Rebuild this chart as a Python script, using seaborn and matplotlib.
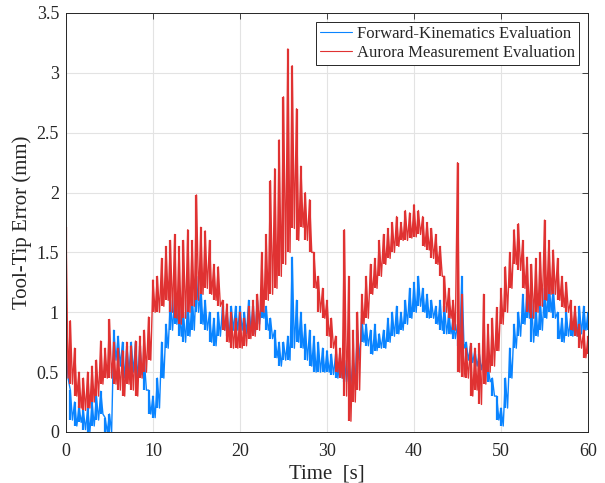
import numpy as np
import pandas as pd
import seaborn as sns
from matplotlib import pyplot as plt

# time grid (s), one upper and one lower reading of the noise band per step
time = np.arange(0, 60.01, 0.5)

fk_hi = [0.7, 0.35, 0.25, 0.22, 0.18, 0.2, 0.25, 0.3, 0.34, 0.12,
         0.15, 0.85, 0.8, 0.75, 0.72, 0.75, 0.75, 0.72, 0.6, 0.35,
         0.3, 0.45, 0.75, 0.9, 1.1, 1.15, 1.1, 1.0, 1.1, 1.15,
         1.3, 1.2, 1.1, 1.0, 0.95, 1.0, 1.05, 1.0, 1.05, 1.05,
         1.05, 1.0, 1.1, 1.05, 1.1, 1.13, 1.05, 0.95, 0.85, 0.75,
         0.75, 0.8, 1.46, 1.1, 1.0, 0.9, 0.85, 0.8, 0.75, 0.7,
         0.68, 0.65, 0.65, 0.62, 0.6, 0.58, 0.6, 0.85, 0.95, 0.9,
         0.85, 0.9, 0.82, 0.85, 0.95, 1.0, 1.05, 1.0, 1.1, 1.2,
         1.25, 1.3, 1.2, 1.15, 1.1, 1.05, 1.1, 1.05, 1.0, 0.95,
         0.9, 1.3, 0.75, 0.72, 0.68, 0.65, 0.62, 0.55, 0.45, 0.3,
         0.2, 0.45, 0.7, 0.9, 1.0, 1.15, 1.2, 1.1, 1.05, 1.1,
         1.2, 1.3, 1.2, 1.0, 0.95, 1.0, 0.95, 1.0, 1.05, 1.05,
         1.0]
fk_lo = [0.45, 0.1, 0.05, 0.08, 0.02, 0.0, 0.05, 0.1, 0.15, 0.0,
         0.0, 0.6, 0.55, 0.45, 0.5, 0.5, 0.45, 0.48, 0.35, 0.15,
         0.12, 0.2, 0.45, 0.7, 0.85, 0.9, 0.8, 0.75, 0.8, 0.85,
         1.0, 0.9, 0.85, 0.75, 0.72, 0.8, 0.85, 0.8, 0.85, 0.85,
         0.85, 0.82, 0.85, 0.82, 0.9, 0.95, 0.85, 0.78, 0.62, 0.55,
         0.6, 0.6, 0.7, 0.75, 0.7, 0.6, 0.55, 0.5, 0.5, 0.5,
         0.5, 0.48, 0.45, 0.45, 0.42, 0.4, 0.45, 0.6, 0.75, 0.72,
         0.65, 0.68, 0.7, 0.7, 0.75, 0.8, 0.82, 0.85, 0.9, 0.95,
         1.0, 1.05, 1.0, 0.95, 0.95, 0.9, 0.85, 0.82, 0.82, 0.78,
         0.72, 0.7, 0.6, 0.58, 0.55, 0.52, 0.5, 0.42, 0.3, 0.1,
         0.05, 0.2, 0.45, 0.7, 0.8, 0.9, 0.95, 0.75, 0.8, 0.85,
         0.95, 1.0, 0.95, 0.78, 0.75, 0.8, 0.8, 0.8, 0.82, 0.85,
         0.85]

aurora_hi = [1.71, 0.93, 0.7, 0.5, 0.45, 0.5, 0.55, 0.6, 0.76, 0.7,
             0.94, 0.75, 0.7, 0.68, 0.75, 0.72, 0.76, 0.8, 0.85, 0.96,
             1.27, 1.3, 1.45, 1.55, 1.6, 1.65, 1.55, 1.6, 1.69, 1.6,
             1.98, 1.71, 1.68, 1.6, 1.4, 1.38, 1.1, 1.07, 1.0, 0.95,
             1.0, 0.95, 1.05, 1.1, 1.15, 1.5, 1.65, 2.1, 2.2, 2.44,
             2.8, 3.2, 3.06, 2.7, 2.22, 2.0, 1.94, 1.5, 1.3, 1.2,
             1.1, 0.95, 0.8, 0.7, 1.69, 1.3, 0.85, 1.0, 1.15, 1.3,
             1.4, 1.45, 1.6, 1.65, 1.7, 1.75, 1.8, 1.75, 1.85, 1.83,
             1.9, 1.85, 1.8, 1.75, 1.7, 1.65, 1.55, 1.3, 1.2, 1.1,
             2.25, 1.15, 0.7, 0.74, 0.7, 0.74, 1.15, 0.9, 0.95, 1.04,
             1.2, 1.38, 1.5, 1.69, 1.74, 1.6, 1.46, 1.4, 1.45, 1.5,
             1.77, 1.6, 1.52, 1.45, 1.3, 1.25, 1.1, 1.05, 0.9, 0.85,
             0.8]
aurora_lo = [0.45, 0.4, 0.3, 0.2, 0.18, 0.2, 0.25, 0.3, 0.4, 0.45,
             0.45, 0.4, 0.35, 0.3, 0.4, 0.35, 0.3, 0.45, 0.5, 0.6,
             1.0, 1.0, 1.05, 1.1, 1.0, 0.95, 0.9, 0.95, 1.0, 1.05,
             1.1, 1.15, 1.2, 1.15, 1.1, 1.05, 0.85, 0.75, 0.7, 0.7,
             0.7, 0.72, 0.78, 0.8, 0.85, 1.0, 1.1, 1.15, 1.2, 1.3,
             1.4, 1.5, 1.7, 1.6, 1.71, 1.6, 1.5, 1.2, 1.0, 0.95,
             0.8, 0.7, 0.5, 0.45, 0.3, 0.09, 0.25, 0.35, 0.9, 0.95,
             1.15, 1.2, 1.3, 1.4, 1.45, 1.5, 1.55, 1.6, 1.6, 1.62,
             1.63, 1.65, 1.55, 1.52, 1.45, 1.4, 1.3, 1.0, 0.95, 0.85,
             0.5, 0.46, 0.45, 0.3, 0.35, 0.23, 0.4, 0.5, 0.55, 0.68,
             0.9, 1.0, 1.2, 1.4, 1.35, 1.2, 1.0, 0.95, 1.0, 1.05,
             1.1, 1.15, 1.15, 1.1, 1.04, 1.0, 0.85, 0.8, 0.7, 0.62,
             0.65]

labels = ["Forward-Kinematics Evaluation", "Aurora Measurement Evaluation"]
colors = ["#0a84ff", "#e03232"]


def zigzag(hi, lo):
    # alternate upper / lower reading half a step apart
    x = np.column_stack([time, time + 0.25]).ravel()
    y = np.column_stack([hi, lo]).ravel()
    return x, y


rows = []
for name, hi, lo in [(labels[0], fk_hi, fk_lo), (labels[1], aurora_hi, aurora_lo)]:
    x, y = zigzag(hi, lo)
    rows.append(pd.DataFrame({"t": x, "err": y, "series": name}))
df = pd.concat(rows, ignore_index=True)

sns.set_style("whitegrid")
plt.rcParams['font.family'] = ['Liberation Serif', 'DejaVu Serif']

fig = plt.figure(figsize=(6.05, 4.83), dpi=100)
ax = fig.add_axes([0.109, 0.1056, 0.863, 0.8675])

sns.lineplot(data=df, x="t", y="err", hue="series", palette=colors,
             estimator=None, sort=False, linewidth=1.0, ax=ax)

# vertical noise strokes between the band readings
ax.vlines(time, fk_lo, fk_hi, color=colors[0], linewidth=1.6, zorder=1.9)
ax.vlines(time, aurora_lo, aurora_hi, color=colors[1], linewidth=1.6, zorder=2.1)

ax.set_xlim(0, 60)
ax.set_ylim(0, 3.5)
ax.set_xticks(np.arange(0, 61, 10))
ax.set_yticks(np.arange(0, 3.51, 0.5))
ax.set_yticklabels(["0", "0.5", "1", "1.5", "2", "2.5", "3", "3.5"])
ax.set_xlabel("Time  [s]", fontsize=15, labelpad=3)
ax.set_ylabel("Tool-Tip Error (mm)", fontsize=15, labelpad=3)
ax.tick_params(direction="in", length=4, width=0.6, labelsize=13,
               top=True, right=True, colors="#262626", pad=5)
ax.tick_params(axis="x", pad=8)
ax.grid(True, color="#e3e3e3", linewidth=0.8)
for s in ax.spines.values():
    s.set_visible(True)
    s.set_color("#262626")
    s.set_linewidth(0.7)

leg = ax.legend(loc="upper right", fontsize=12, frameon=True, fancybox=False,
                borderpad=0.25, handlelength=1.9, handletextpad=0.3,
                labelspacing=0.15, borderaxespad=0.55)
leg.get_frame().set_edgecolor("#262626")
leg.get_frame().set_linewidth(0.7)
leg.get_frame().set_alpha(1)
for line in leg.get_lines():
    line.set_linewidth(0.8)

fig.savefig("out.png", dpi=100)
